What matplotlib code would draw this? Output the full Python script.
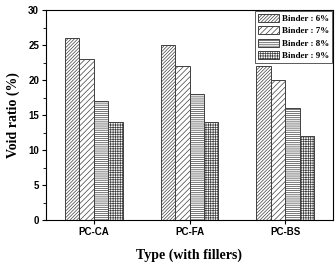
import matplotlib.pyplot as plt
import numpy as np
from matplotlib.ticker import MultipleLocator

# data
groups = ["PC-CA", "PC-FA", "PC-BS"]
labels = ["Binder : 6%", "Binder : 7%", "Binder : 8%", "Binder : 9%"]
void_6 = [26, 25, 22]
void_7 = [23, 22, 20]
void_8 = [17, 18, 16]
void_9 = [14, 14, 12]

series = [void_6, void_7, void_8, void_9]
hatches = ["//////////", "//////", "--------", "+++++++"]

plt.rcParams["hatch.color"] = "#808080"
plt.rcParams["hatch.linewidth"] = 0.5

fig = plt.figure(figsize=(3.36, 2.62), dpi=100)
ax = fig.add_axes([46/336, 1 - 220/262, 287/336, 210/262])

bar_width = 0.15
x = np.arange(1, len(groups) + 1)
for i in range(len(series)):
  xpos = x + (i - 1.5) * bar_width
  ax.bar(xpos, series[i], width=bar_width, color="white", edgecolor="#404040",
         linewidth=0.7, hatch=hatches[i], label=labels[i])

ax.set_xlim(0.5, 3.5)
ax.set_ylim(0, 30)
ax.yaxis.set_major_locator(MultipleLocator(5))
ax.yaxis.set_minor_locator(MultipleLocator(2.5))
ax.set_xticks(x)
ax.set_xticklabels(groups, fontfamily="Liberation Sans", fontweight="bold", fontsize=7)
for t in ax.get_yticklabels():
  t.set_fontfamily("Liberation Sans")
  t.set_fontweight("bold")
  t.set_fontsize(7)
ax.tick_params(direction="out", length=3, width=0.8, pad=2)
ax.tick_params(which="minor", direction="out", length=2, width=0.6)
for s in ax.spines.values():
  s.set_linewidth(0.8)

ax.set_ylabel("Void ratio (%)", fontfamily="Liberation Serif", fontweight="bold", fontsize=10, labelpad=6)
fig.text(189/336, 1 - 255/262, "Type (with fillers)", ha="center", va="center",
         fontfamily="Liberation Serif", fontweight="bold", fontsize=10)

leg = ax.legend(loc="upper right", prop={"family": "Liberation Serif", "weight": "bold", "size": 6.5},
                fancybox=False, edgecolor="#404040", framealpha=1, borderaxespad=0.15,
                handlelength=2.3, handleheight=1.0, labelspacing=0.35, borderpad=0.3,
                handletextpad=0.35)
leg.get_frame().set_linewidth(0.6)

fig.savefig("out.png", dpi=100)
